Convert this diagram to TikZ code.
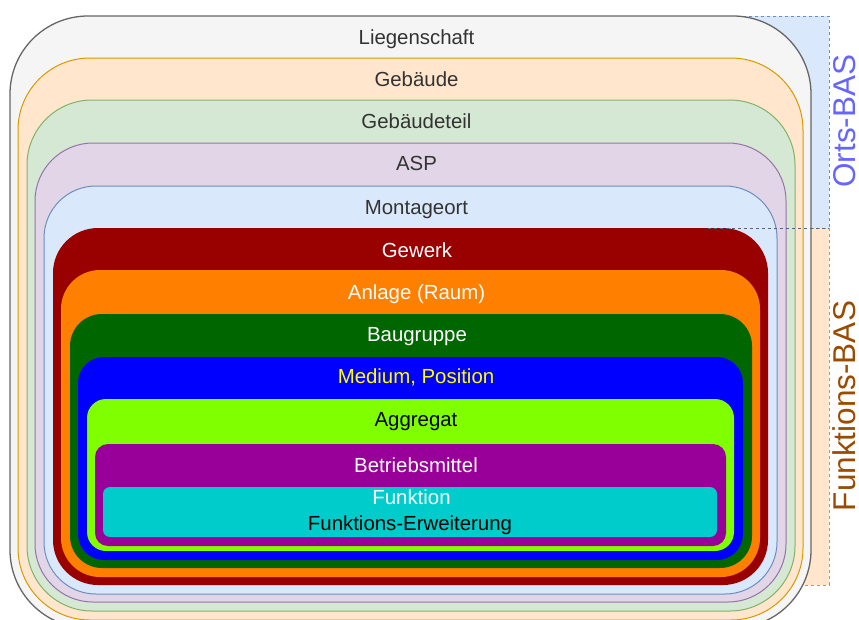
\documentclass[tikz,border=0pt]{standalone}
\usepackage{fontspec}
\setmainfont{Liberation Sans}
\definecolor{lgfill}{HTML}{F5F5F5}\definecolor{lgdraw}{HTML}{666666}
\definecolor{gbfill}{HTML}{FFE6CC}\definecolor{gbdraw}{HTML}{D79B00}
\definecolor{gtfill}{HTML}{D5E8D4}\definecolor{gtdraw}{HTML}{82B366}
\definecolor{aspfill}{HTML}{E1D5E7}\definecolor{aspdraw}{HTML}{9673A6}
\definecolor{mofill}{HTML}{DAE8FC}\definecolor{modraw}{HTML}{6C8EBF}
\definecolor{gewerkc}{HTML}{990000}
\definecolor{anlagec}{HTML}{FF8000}
\definecolor{baugrc}{HTML}{006600}
\definecolor{mediumc}{HTML}{0000FF}
\definecolor{aggrc}{HTML}{80FF00}
\definecolor{betrc}{HTML}{990099}
\definecolor{funkc}{HTML}{00CCCC}
\definecolor{txtc}{HTML}{333333}
\definecolor{yelc}{HTML}{FFFF00}
\definecolor{ortsc}{HTML}{6666FF}
\definecolor{fbasc}{HTML}{994C00}
\definecolor{sepc}{HTML}{56657D}
\begin{document}
\begin{tikzpicture}[x=1pt,y=-1pt,
  lbl/.style={anchor=base, inner sep=0pt, font=\fontsize{20.4}{24}\selectfont},
  sidelbl/.style={anchor=base, inner sep=0pt, rotate=90, font=\fontsize{31.5}{36}\selectfont},
  lightbox/.style={line width=1pt},
  solidbox/.style={draw=none},
  dashbox/.style={line width=1pt, dash pattern=on 3pt off 3pt}]
\useasboundingbox (0,0) rectangle (859,619);
\clip (0,0) rectangle (859,619);
% side frames
\draw[dashbox, draw=modraw, fill=mofill] (700,16) rectangle (829,228);
\draw[dashbox, draw=gbdraw, fill=gbfill] (700,228) rectangle (829,585);
% nested boxes
\draw[lightbox, draw=lgdraw, fill=lgfill, line width=1.3pt, rounded corners=78pt] (10,16) rectangle (811,628);
\draw[lightbox, draw=gbdraw, fill=gbfill, rounded corners=72pt] (18,58) rectangle (803,620);
\draw[lightbox, draw=gtdraw, fill=gtfill, rounded corners=65pt] (27,100) rectangle (795,611);
\draw[lightbox, draw=aspdraw, fill=aspfill, rounded corners=58pt] (35,143) rectangle (786,602);
\draw[lightbox, draw=modraw, fill=mofill, rounded corners=52pt] (44,186) rectangle (777,594);
\fill[gewerkc, rounded corners=45pt] (53,228) rectangle (768,585);
\fill[anlagec, rounded corners=39pt] (61,270) rectangle (760,577);
\fill[baugrc, rounded corners=32pt] (70,314) rectangle (752,568);
\fill[mediumc, rounded corners=26pt] (78,357) rectangle (743,560);
\fill[aggrc, rounded corners=19pt] (87,399) rectangle (734,551);
\fill[betrc, rounded corners=13pt] (95,444) rectangle (726,546);
\fill[funkc, rounded corners=7pt] (103,487) rectangle (717,537);
% separator
\coordinate (sepA) at (708,228);
\coordinate (sepB) at (829,228);
\draw[dashbox, draw=sepc] (sepA) -- (sepB);
% labels
\node[lbl, text=txtc] (liegenschaft) at (416.5,44) {Liegenschaft};
\node[lbl, text=txtc] (gebaeude) at (416.5,86) {Gebäude};
\node[lbl, text=txtc] (gebaeudeteil) at (416.5,128) {Gebäudeteil};
\node[lbl, text=txtc] (asp) at (416.5,170) {ASP};
\node[lbl, text=txtc] (montageort) at (416.5,214) {Montageort};
\node[lbl, text=white] (gewerk) at (417,257) {Gewerk};
\node[lbl, text=white] (anlage) at (416.5,299) {Anlage (Raum)};
\node[lbl, text=white] (baugruppe) at (417,341) {Baugruppe};
\node[lbl, text=yelc] (medium) at (416,383) {Medium, Position};
\node[lbl, text=black] (aggregat) at (416,426) {Aggregat};
\node[lbl, text=white] (betrieb) at (416,472) {Betriebsmittel};
\node[lbl, text=white] (funktion) at (411.5,504) {Funktion};
\node[lbl, text=black] (erweiterung) at (410,530) {Funktions-Erweiterung};
\node[sidelbl, text=ortsc] (ortsbas) at (855,121) {Orts-BAS};
\node[sidelbl, text=fbasc] (funktionsbas) at (855,406) {Funktions-BAS};
\end{tikzpicture}
\end{document}
